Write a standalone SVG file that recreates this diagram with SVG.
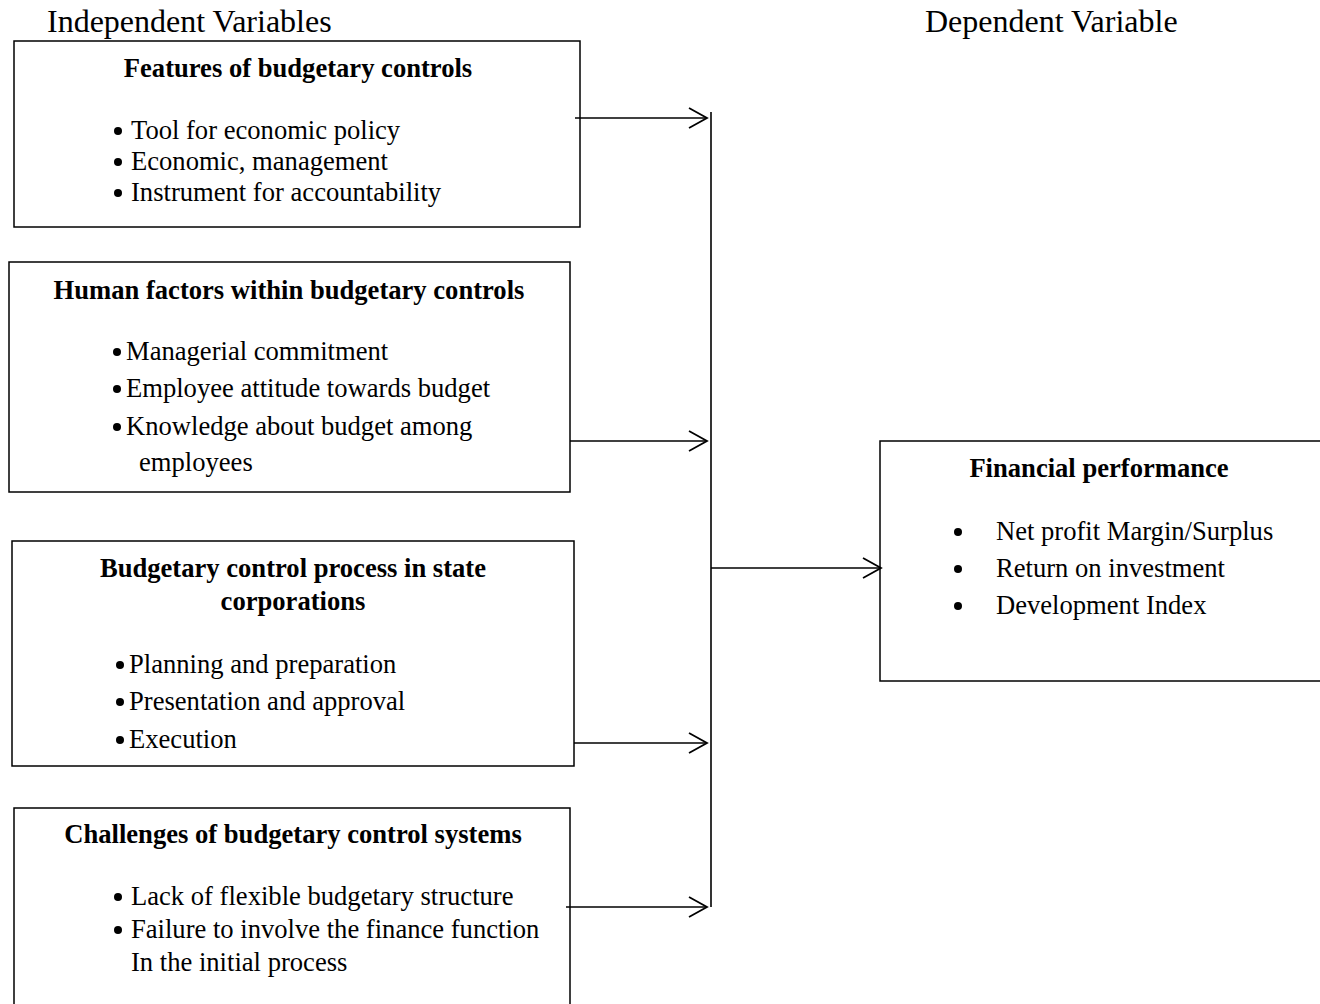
<svg xmlns="http://www.w3.org/2000/svg" width="1320" height="1004" viewBox="0 0 1320 1004">
<defs>
<style>
text{font-family:"Liberation Serif","Times New Roman",serif;fill:#000}
.h{font-size:32px}
.t{font-size:26.6px;font-weight:bold;text-anchor:middle}
.b{font-size:26.6px}
.box{fill:#fff;stroke:#000;stroke-width:1.5}
.c{stroke:#000;stroke-width:1.6;fill:none}
</style>
<marker id="ah" markerUnits="userSpaceOnUse" markerWidth="24" markerHeight="24" viewBox="-20 -12 24 24" refX="0" refY="0" orient="auto">
<path d="M-18,-10 L0,0 L-18,10" fill="none" stroke="#000" stroke-width="1.8"/>
</marker>
</defs>
<rect width="1320" height="1004" fill="#fff"/>
<text class="h" x="47" y="32">Independent Variables</text>
<text class="h" x="925" y="32">Dependent Variable</text>
<g id="features">
<rect class="box" x="14" y="41" width="566" height="186"/>
<text class="t" x="298" y="77">Features of budgetary controls</text>
<circle cx="118" cy="131" r="4"/><text class="b" x="131" y="139">Tool for economic policy</text>
<circle cx="118" cy="162" r="4"/><text class="b" x="131" y="170">Economic, management</text>
<circle cx="118" cy="193" r="4"/><text class="b" x="131" y="201">Instrument for accountability</text>
</g>
<g id="human">
<rect class="box" x="9" y="262" width="561" height="230"/>
<text class="t" x="289" y="299">Human factors within budgetary controls</text>
<circle cx="117" cy="352" r="4"/><text class="b" x="126" y="360">Managerial commitment</text>
<circle cx="117" cy="389" r="4"/><text class="b" x="126" y="397">Employee attitude towards budget</text>
<circle cx="117" cy="427" r="4"/><text class="b" x="126" y="435">Knowledge about budget among</text>
<text class="b" x="139" y="471">employees</text>
</g>
<g id="process">
<rect class="box" x="12" y="541" width="562" height="225"/>
<text class="t" x="293" y="577">Budgetary control process in state</text>
<text class="t" x="293" y="610">corporations</text>
<circle cx="120" cy="665" r="4"/><text class="b" x="129" y="673">Planning and preparation</text>
<circle cx="120" cy="702" r="4"/><text class="b" x="129" y="710">Presentation and approval</text>
<circle cx="120" cy="740" r="4"/><text class="b" x="129" y="748">Execution</text>
</g>
<g id="challenges">
<rect class="box" x="14" y="808" width="556" height="210"/>
<text class="t" x="293" y="843">Challenges of budgetary control systems</text>
<circle cx="118" cy="897" r="4"/><text class="b" x="131" y="905">Lack of flexible budgetary structure</text>
<circle cx="118" cy="930" r="4"/><text class="b" x="131" y="938">Failure to involve the finance function</text>
<text class="b" x="131" y="971">In the initial process</text>
</g>
<g id="performance">
<rect class="box" x="880" y="441" width="445" height="240"/>
<text class="t" x="1099" y="477">Financial performance</text>
<circle cx="958" cy="532" r="4"/><text class="b" x="996" y="540">Net profit Margin/Surplus</text>
<circle cx="958" cy="569" r="4"/><text class="b" x="996" y="577">Return on investment</text>
<circle cx="958" cy="606" r="4"/><text class="b" x="996" y="614">Development Index</text>
</g>
<g id="connectors">
<line class="c" x1="575" y1="118" x2="707" y2="118" marker-end="url(#ah)"/>
<line class="c" x1="570" y1="441" x2="707" y2="441" marker-end="url(#ah)"/>
<line class="c" x1="574" y1="743" x2="707" y2="743" marker-end="url(#ah)"/>
<line class="c" x1="566" y1="907" x2="707" y2="907" marker-end="url(#ah)"/>
<line class="c" x1="711" y1="112" x2="711" y2="907"/>
<line class="c" x1="711" y1="568" x2="881" y2="568" marker-end="url(#ah)"/>
</g>
</svg>
